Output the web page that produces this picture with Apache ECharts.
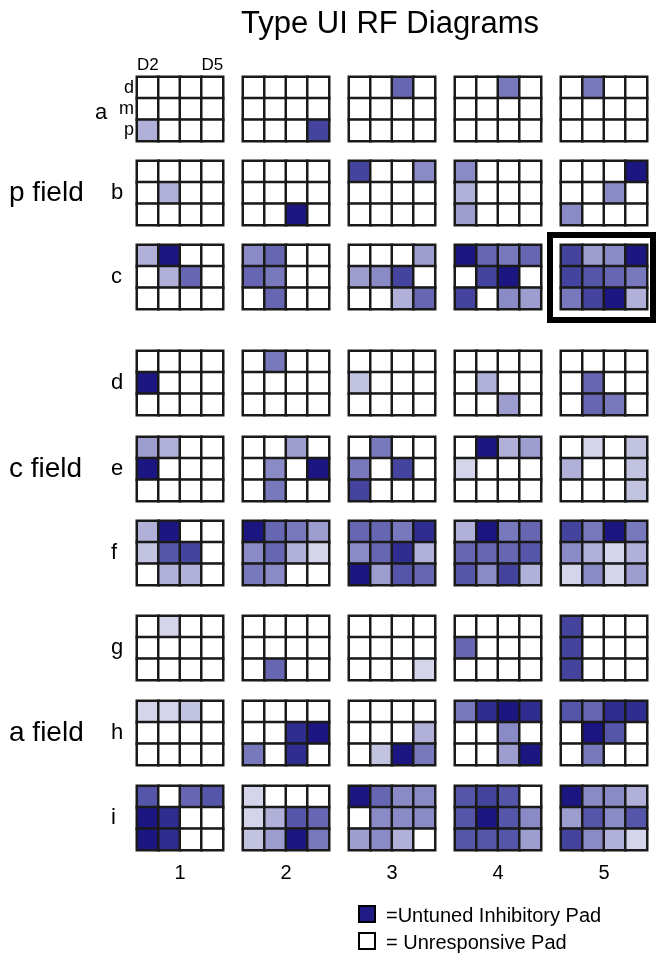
<!DOCTYPE html>
<html>
<head>
<meta charset="utf-8">
<script src="https://cdn.jsdelivr.net/npm/echarts@6/dist/echarts.min.js"></script>
<style>
  html, body { margin: 0; padding: 0; background: #fff; }
  #chart { width: 656px; height: 963px; }
</style>
</head>
<body>
<div id="chart"></div>
<script>
// pad grid axes
var padCols = ['D2', 'D3', 'D4', 'D5'];
var padRows = ['d', 'm', 'p'];
var rowNames = ['a', 'b', 'c', 'd', 'e', 'f', 'g', 'h', 'i'];
var colNames = ['1', '2', '3', '4', '5'];
var fieldNames = ['p field', 'c field', 'a field'];

// inhibition strength, 0 = unresponsive, 6 = untuned inhibitory
// each panel: rows d, m, p  x  cols D2..D5
var rowA = [
    [[0, 0, 0, 0], [0, 0, 0, 0], [2, 0, 0, 0]],
    [[0, 0, 0, 0], [0, 0, 0, 0], [0, 0, 0, 5]],
    [[0, 0, 4, 0], [0, 0, 0, 0], [0, 0, 0, 0]],
    [[0, 0, 3.5, 0], [0, 0, 0, 0], [0, 0, 0, 0]],
    [[0, 3.5, 0, 0], [0, 0, 0, 0], [0, 0, 0, 0]]
];
var rowB = [
    [[0, 0, 0, 0], [0, 2, 0, 0], [0, 0, 0, 0]],
    [[0, 0, 0, 0], [0, 0, 0, 0], [0, 0, 6, 0]],
    [[5, 0, 0, 3], [0, 0, 0, 0], [0, 0, 0, 0]],
    [[3, 0, 0, 0], [2, 0, 0, 0], [2.5, 0, 0, 0]],
    [[0, 0, 0, 6], [0, 0, 3, 0], [3, 0, 0, 0]]
];
var rowC = [
    [[2, 6, 0, 0], [0, 2, 4, 0], [0, 0, 0, 0]],
    [[3, 4, 0, 0], [4, 3.5, 0, 0], [0, 4, 0, 0]],
    [[0, 0, 0, 2.5], [2.5, 3, 5, 0], [0, 0, 2, 4]],
    [[6, 4, 3.5, 4], [0, 5, 6, 0], [5, 0, 3, 2.5]],
    [[5, 2.5, 3, 6], [5, 4.5, 4, 3.5], [3.5, 5, 6, 2]]
];
var rowD = [
    [[0, 0, 0, 0], [6, 0, 0, 0], [0, 0, 0, 0]],
    [[0, 3.5, 0, 0], [0, 0, 0, 0], [0, 0, 0, 0]],
    [[0, 0, 0, 0], [1.5, 0, 0, 0], [0, 0, 0, 0]],
    [[0, 0, 0, 0], [0, 2, 0, 0], [0, 0, 2.5, 0]],
    [[0, 0, 0, 0], [0, 4, 0, 0], [0, 4, 3.5, 0]]
];
var rowE = [
    [[2.5, 2, 0, 0], [6, 0, 0, 0], [0, 0, 0, 0]],
    [[0, 0, 2.5, 0], [0, 3, 0, 6], [0, 3.5, 0, 0]],
    [[0, 3.5, 0, 0], [3.5, 0, 5, 0], [5, 0, 0, 0]],
    [[0, 6, 2, 2.5], [1, 0, 0, 0], [0, 0, 0, 0]],
    [[0, 1, 0, 1.5], [2, 0, 0, 1.5], [0, 0, 0, 1.5]]
];
var rowF = [
    [[2, 6, 0, 0], [1.5, 4.5, 5, 0], [0, 2, 2, 0]],
    [[6, 4, 3.5, 2.5], [3, 4, 2, 1], [3.5, 3, 0, 0]],
    [[4, 4, 3.5, 5.5], [3, 4, 5.5, 2], [6, 2.5, 4.5, 4]],
    [[2, 6, 3.5, 4], [4, 4, 4, 4.5], [4.5, 3, 5, 2]],
    [[5, 3.5, 6, 3.5], [3, 2, 1, 2], [1, 3, 1, 2.5]]
];
var rowG = [
    [[0, 1, 0, 0], [0, 0, 0, 0], [0, 0, 0, 0]],
    [[0, 0, 0, 0], [0, 0, 0, 0], [0, 4, 0, 0]],
    [[0, 0, 0, 0], [0, 0, 0, 0], [0, 0, 0, 1]],
    [[0, 0, 0, 0], [4, 0, 0, 0], [0, 0, 0, 0]],
    [[5, 0, 0, 0], [5, 0, 0, 0], [5, 0, 0, 0]]
];
var rowH = [
    [[1, 1, 1.5, 0], [0, 0, 0, 0], [0, 0, 0, 0]],
    [[0, 0, 0, 0], [0, 0, 5.5, 6], [3.5, 0, 5.5, 0]],
    [[0, 0, 0, 0], [0, 0, 0, 2], [0, 1.5, 6, 3.5]],
    [[3.5, 5.5, 6, 5.5], [0, 0, 3, 0], [0, 0, 2.5, 6]],
    [[4.5, 4, 5.5, 5.5], [0, 6, 4.5, 0], [0, 3.5, 0, 0]]
];
var rowI = [
    [[4.5, 0, 4, 4.5], [6, 5.5, 0, 0], [6, 5.5, 0, 0]],
    [[1, 0, 0, 0], [1, 2, 4.5, 4], [1.5, 2.5, 6, 3.5]],
    [[6, 4, 3, 3], [0, 3, 3, 3], [2.5, 3, 2, 0]],
    [[4.5, 5, 4.5, 0], [4.5, 6, 4.5, 3], [4.5, 4.5, 4.5, 2.5]],
    [[6, 3, 3, 2], [2.5, 4.5, 3, 4.5], [5, 3, 2, 1]]
];
var allRows = [rowA, rowB, rowC, rowD, rowE, rowF, rowG, rowH, rowI];

// layout
var panelLeft = [137, 243, 349, 455, 561];
var panelTop = [77, 161, 245, 351, 437, 521, 616, 701, 786];
var panelW = 86, panelH = 64;
var fnt = '"Liberation Sans", Arial, Helvetica, sans-serif';

var myChart = echarts.init(document.getElementById('chart'));

var grids = [], xAxes = [], yAxes = [], series = [];
allRows.forEach(function (row, r) {
    row.forEach(function (panel, c) {
        var k = grids.length;
        var first = (k === 0);
        grids.push({ left: panelLeft[c], top: panelTop[r], width: panelW, height: panelH });
        xAxes.push({
            type: 'category', gridIndex: k, data: padCols, position: 'top',
            axisLine: { show: false }, axisTick: { show: false }, splitLine: { show: false },
            axisLabel: {
                show: first, interval: 0, margin: 3, fontSize: 17, color: '#000', fontFamily: fnt,
                formatter: function (v) { return (v === 'D2' || v === 'D5') ? v : ''; }
            }
        });
        yAxes.push({
            type: 'category', gridIndex: k, data: padRows, inverse: true,
            axisLine: { show: false }, axisTick: { show: false }, splitLine: { show: false },
            axisLabel: { show: first, interval: 0, margin: 3, fontSize: 18, color: '#000', fontFamily: fnt }
        });
        var data = [];
        panel.forEach(function (vals, y) {
            vals.forEach(function (v, x) { data.push([x, y, v]); });
        });
        series.push({
            type: 'heatmap', xAxisIndex: k, yAxisIndex: k, data: data,
            itemStyle: { borderColor: '#1a1a1a', borderWidth: 2.5 },
            emphasis: { disabled: true }
        });
    });
});

var graphic = [];
// title
graphic.push({ type: 'text', x: 390, y: 24, style: { text: 'Type UI RF Diagrams', fontSize: 31, fontFamily: fnt, fill: '#000', align: 'center', verticalAlign: 'middle' } });
// row letters
rowNames.forEach(function (n, r) {
    if (r === 0) {
        graphic.push({ type: 'text', x: 95, y: panelTop[r] + panelH / 2 + 4, style: { text: n, fontSize: 22, fontFamily: fnt, fill: '#000', verticalAlign: 'middle' } });
    } else {
        graphic.push({ type: 'text', x: 111, y: panelTop[r] + panelH / 2, style: { text: n, fontSize: 22, fontFamily: fnt, fill: '#000', verticalAlign: 'middle' } });
    }
});
// field labels
fieldNames.forEach(function (n, g) {
    graphic.push({ type: 'text', x: 9, y: panelTop[g * 3 + 1] + panelH / 2, style: { text: n, fontSize: 28, fontFamily: fnt, fill: '#000', verticalAlign: 'middle' } });
});
// column numbers
colNames.forEach(function (n, c) {
    graphic.push({ type: 'text', x: panelLeft[c] + panelW / 2, y: 873, style: { text: n, fontSize: 20, fontFamily: fnt, fill: '#000', align: 'center', verticalAlign: 'middle' } });
});
// highlighted panel frame
graphic.push({ type: 'rect', shape: { x: 550, y: 235, width: 103, height: 85 }, style: { fill: 'none', stroke: '#000', lineWidth: 6 } });
// key
graphic.push({ type: 'rect', shape: { x: 359, y: 906, width: 16, height: 16 }, style: { fill: '#1f1a85', stroke: '#000', lineWidth: 2 } });
graphic.push({ type: 'text', x: 386, y: 916, style: { text: '=Untuned Inhibitory Pad', fontSize: 20, fontFamily: fnt, fill: '#000', verticalAlign: 'middle' } });
graphic.push({ type: 'rect', shape: { x: 359, y: 933, width: 16, height: 16 }, style: { fill: '#fff', stroke: '#000', lineWidth: 2 } });
graphic.push({ type: 'text', x: 386, y: 943, style: { text: '= Unresponsive Pad', fontSize: 20, fontFamily: fnt, fill: '#000', verticalAlign: 'middle' } });

var option = {
    animation: false,
    backgroundColor: '#fff',
    grid: grids,
    xAxis: xAxes,
    yAxis: yAxes,
    visualMap: {
        show: false, type: 'continuous', min: 0, max: 6,
        inRange: { color: ['#ffffff', '#d4d4ea', '#b0b0d8', '#8a8ac6', '#6666b3', '#44449e', '#1c1683'] }
    },
    series: series,
    graphic: graphic
};

myChart.setOption(option);
</script>
</body>
</html>
